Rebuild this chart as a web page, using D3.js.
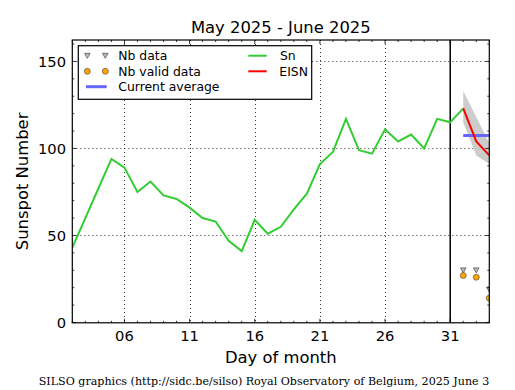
<!DOCTYPE html>
<html><head><meta charset="utf-8">
<script src="https://cdn.jsdelivr.net/npm/d3@7"></script>
<style>
html,body{margin:0;padding:0;background:#fff;}
svg{display:block;font-family:"DejaVu Sans",sans-serif;}
</style></head>
<body><svg id="c" width="515" height="390"></svg>
<script>
const title = "May 2025 - June 2025";
const snDays = [2,3,4,5,6,7,8,9,10,11,12,13,14,15,16,17,18,19,20,21,22,23,24,25,26,27,28,29,30,31,32];
const snValues = [43,60,77,94,89,75,81,73,71,66,60,58,47,41,59,51,55,65,74,91,98,117,99,97,111,104,108,100,117,115,123];
const eisnDays = [32,33,34];
const eisnValues = [123,104,96];
const eisnLow = [115,96,91];
const eisnHigh = [133,118,103];
const avgDays = [32,34];
const avgValue = 107.5;
const nbDays = [32,33,34];
const nbData = [30,30,19];
const nbValid = [27,26,14];
const xTicks = [6,11,16,21,26,31];
const xTickLabels = ["06","11","16","21","26","31"];
const yTicks = [0,50,100,150];
const monthBoundary = 31;

const svg = d3.select("#c");
const L=72.3, R=489.3, T=40, B=322.8;
const x = d3.scaleLinear().domain([2,34]).range([L,R]);
const y = d3.scaleLinear().domain([0,162.3]).range([322.5,40]);

const defs = svg.append("defs");
defs.append("clipPath").attr("id","clip").append("rect")
  .attr("x",L).attr("y",T).attr("width",R-L).attr("height",B-T);

// grid
const grid = svg.append("g").attr("stroke","#000").attr("stroke-width",0.8).attr("stroke-dasharray","1,3");
xTicks.forEach(t=>grid.append("line").attr("x1",Math.round(x(t))+0.5).attr("x2",Math.round(x(t))+0.5).attr("y1",T).attr("y2",B));
yTicks.filter(t=>t>0).forEach(t=>grid.append("line").attr("x1",L).attr("x2",R).attr("y1",Math.round(y(t))+0.5).attr("y2",Math.round(y(t))+0.5));

const plot = svg.append("g").attr("clip-path","url(#clip)");

// band
const area = d3.area().x((d,i)=>x(eisnDays[i])).y0((d,i)=>y(eisnLow[i])).y1((d,i)=>y(eisnHigh[i]));
plot.append("path").datum(eisnDays).attr("d",area).attr("fill","#cccccc");

// month boundary
plot.append("line").attr("x1",x(monthBoundary)).attr("x2",x(monthBoundary)).attr("y1",T).attr("y2",B)
  .attr("stroke","#000").attr("stroke-width",1.5);

// Sn line
const line = d3.line();
plot.append("path").attr("d",line(snDays.map((d,i)=>[x(d),y(snValues[i])])))
  .attr("fill","none").attr("stroke","#33cc33").attr("stroke-width",2);
// average
plot.append("line").attr("x1",x(avgDays[0])).attr("x2",x(avgDays[1])).attr("y1",y(avgValue)).attr("y2",y(avgValue))
  .attr("stroke","#6666ff").attr("stroke-width",3);
// EISN
plot.append("path").attr("d",line(eisnDays.map((d,i)=>[x(d),y(eisnValues[i])])))
  .attr("fill","none").attr("stroke","#ff0000").attr("stroke-width",2);

function tri(g,cx,cy){
  g.append("path").attr("d",`M${cx-2.8},${cy-2.4}L${cx+2.8},${cy-2.4}L${cx},${cy+2.6}Z`)
   .attr("fill","#bbbbbb").attr("stroke","#555").attr("stroke-width",0.8);
}
function dot(g,cx,cy){
  g.append("circle").attr("cx",cx).attr("cy",cy).attr("r",3).attr("fill","#ffa500").attr("stroke","#444").attr("stroke-width",0.6);
}
nbDays.forEach((d,i)=>{ tri(plot,x(d),y(nbData[i])); });
nbDays.forEach((d,i)=>{ dot(plot,x(d),y(nbValid[i])); });

// ticks (inside)
const tk = svg.append("g").attr("stroke","#000").attr("stroke-width",0.8);
for(let d=2; d<=34; d++){
  const major = xTicks.includes(d);
  const len = major?4:2;
  const xx = x(d);
  tk.append("line").attr("x1",xx).attr("x2",xx).attr("y1",B).attr("y2",B-len);
  tk.append("line").attr("x1",xx).attr("x2",xx).attr("y1",T).attr("y2",T+len);
}
for(let v=0; v<=160; v+=10){
  const major = yTicks.includes(v);
  const len = major?4:2;
  const yy = y(v);
  tk.append("line").attr("x1",L).attr("x2",L+len).attr("y1",yy).attr("y2",yy);
  tk.append("line").attr("x1",R).attr("x2",R-len).attr("y1",yy).attr("y2",yy);
}

// frame
svg.append("rect").attr("x",L).attr("y",T).attr("width",R-L).attr("height",B-T)
  .attr("fill","none").attr("stroke","#000").attr("stroke-width",1.2);

// tick labels
const tl = svg.append("g").attr("font-size","14.7px").attr("fill","#000");
xTicks.forEach((t,i)=>tl.append("text").attr("x",x(t)).attr("y",340.5).attr("text-anchor","middle").text(xTickLabels[i]));
yTicks.forEach(t=>tl.append("text").attr("x",66).attr("y",y(t)+5.3).attr("text-anchor","end").text(String(t)));

// titles
svg.append("text").attr("x",(L+R)/2).attr("y",32.5).attr("text-anchor","middle").attr("font-size","16.4px").text(title);
svg.append("text").attr("x",(L+R)/2).attr("y",362.5).attr("text-anchor","middle").attr("font-size","16.4px").text("Day of month");
svg.append("text").attr("transform",`translate(28,${(T+B)/2}) rotate(-90)`).attr("text-anchor","middle").attr("font-size","16.4px").text("Sunspot Number");
svg.append("text").attr("x",264).attr("y",384.7).attr("text-anchor","middle")
  .attr("font-family","'DejaVu Serif',serif").attr("font-size","11.1px").text("SILSO graphics (http://sidc.be/silso) Royal Observatory of Belgium, 2025 June 3");

// legend
const lg = svg.append("g");
lg.append("rect").attr("x",78.3).attr("y",45.7).attr("width",233.4).attr("height",53.6)
  .attr("fill","#fff").attr("stroke","#000").attr("stroke-width",1.2);
const lf = lg.append("g").attr("font-size","12.4px");
tri(lg,87.3,55.7); tri(lg,105.3,55.7);
dot(lg,87.3,71.3); dot(lg,105.3,71.3);
lg.append("line").attr("x1",86).attr("x2",106.7).attr("y1",86.7).attr("y2",86.7).attr("stroke","#6666ff").attr("stroke-width",3);
lf.append("text").attr("x",118.3).attr("y",60.2).text("Nb data");
lf.append("text").attr("x",118.3).attr("y",75.8).text("Nb valid data");
lf.append("text").attr("x",118.3).attr("y",91.2).text("Current average");
lg.append("line").attr("x1",248.3).attr("x2",266.7).attr("y1",55.7).attr("y2",55.7).attr("stroke","#33cc33").attr("stroke-width",2);
lg.append("line").attr("x1",248.3).attr("x2",266.7).attr("y1",71.3).attr("y2",71.3).attr("stroke","#ff0000").attr("stroke-width",2);
lf.append("text").attr("x",280).attr("y",60.2).text("Sn");
lf.append("text").attr("x",279.3).attr("y",75.8).text("EISN");
</script></body></html>
